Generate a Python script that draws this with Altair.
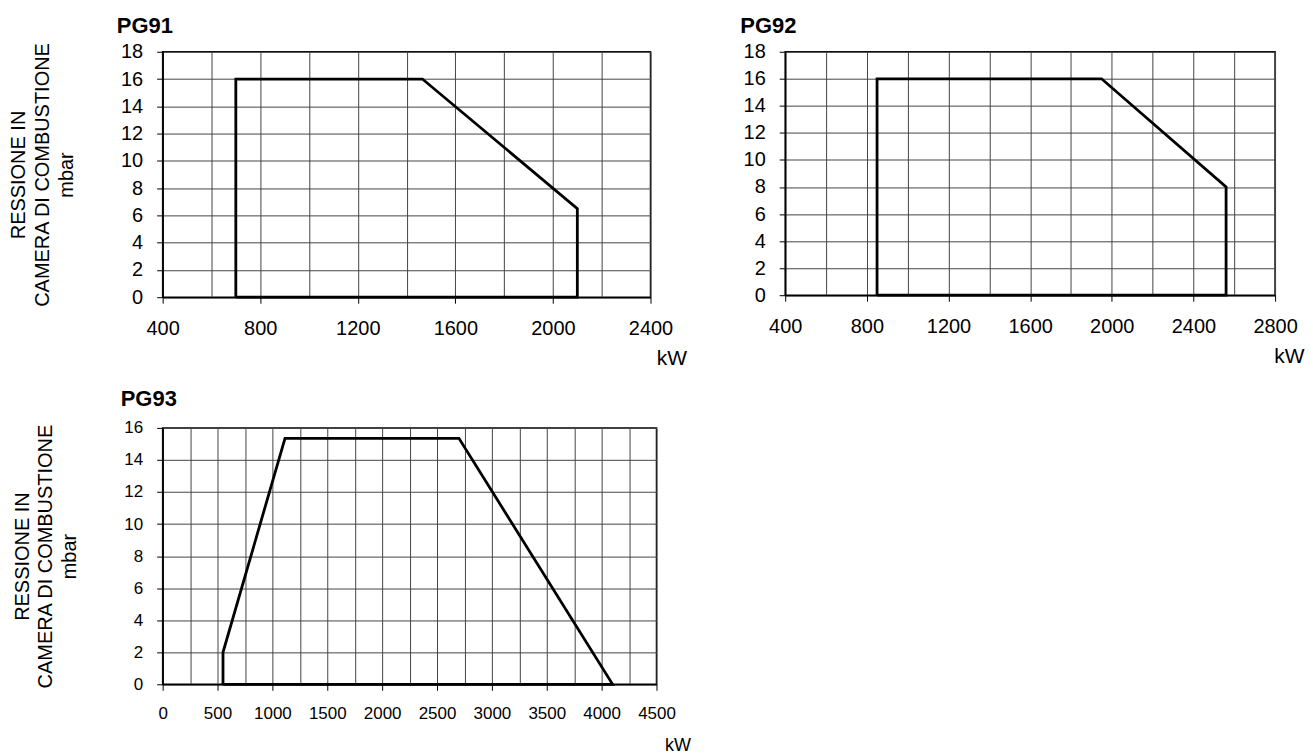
import altair as alt
import pandas as pd

# --- data ---
pg91_kw = [700, 700, 1465, 2100, 2100, 700]
pg91_mbar = [0, 16, 16, 6.5, 0, 0]

pg92_kw = [850, 850, 1950, 2560, 2560, 850]
pg92_mbar = [0, 16, 16, 8, 0, 0]

pg93_kw = [550, 550, 1115, 2700, 4100, 550]
pg93_mbar = [0, 2, 15.35, 15.35, 0, 0]

pg91_xgrid = list(range(400, 2401, 200))
pg92_xgrid = list(range(400, 2801, 200))
pg93_xgrid = list(range(0, 4501, 250))
y18_ticks = list(range(0, 19, 2))
y16_ticks = list(range(0, 17, 2))

Y_TITLE = ["RESSIONE IN", "CAMERA DI COMBUSTIONE", "mbar"]
FONT = "Liberation Sans"


def panel(name, kw, mbar, xgrid, xstep, xdom, yticks, ydom, w, h,
          ytitle, lab_size, title_dx, kw_dx, title_offset):
    df = pd.DataFrame({"kW": kw, "mbar": mbar, "i": list(range(len(kw)))})
    x_axis = alt.Axis(
        values=xgrid,
        labelExpr=f"datum.value % {xstep} === 0 ? datum.label : ''",
        tickOpacity=alt.ExprRef(f"datum.value % {xstep} === 0 ? 1 : 0"),
        labelOverlap=False, labelFlush=False,
        grid=True, gridColor="#444", gridWidth=1,
        tickSize=6, tickColor="#000", labelPadding=15,
        labelFontSize=lab_size, labelFont=FONT, labelColor="#000",
        domain=True, domainColor="#000", domainWidth=1.5,
        title="kW", titleFont=FONT, titleFontSize=lab_size + 1,
        titleFontWeight="normal", titleColor="#000",
        titleAnchor="end", titleAlign="right", titleBaseline="middle",
        titleX=w + kw_dx, titleY=61, format="d",
    )
    y_kwargs = dict(
        values=yticks, grid=True, gridColor="#444", gridWidth=1,
        labelOverlap=False, labelFlush=False,
        tickSize=6, tickColor="#000", labelPadding=14,
        labelFontSize=lab_size, labelFont=FONT, labelColor="#000",
        domain=True, domainColor="#000", domainWidth=1.5,
    )
    if ytitle:
        y_kwargs.update(title=Y_TITLE, titleFont=FONT, titleFontSize=20,
                        titleFontWeight="normal", titleColor="#000",
                        titleLineHeight=24, titlePadding=44)
    else:
        y_kwargs.update(title=None)
    return (
        alt.Chart(df)
        .mark_line(color="#000", strokeWidth=2.8, strokeJoin="miter")
        .encode(
            x=alt.X("kW:Q", scale=alt.Scale(domain=xdom, nice=False, zero=False), axis=x_axis),
            y=alt.Y("mbar:Q", scale=alt.Scale(domain=ydom, nice=False), axis=alt.Axis(**y_kwargs)),
            order="i:Q",
        )
        .properties(
            width=w, height=h,
            title=alt.TitleParams(name, anchor="start", frame="group", dx=title_dx,
                                  font=FONT, fontSize=22, fontWeight="bold",
                                  color="#000", offset=title_offset, baseline="alphabetic"),
        )
    )


c91 = panel("PG91", pg91_kw, pg91_mbar, pg91_xgrid, 400, [400, 2400], y18_ticks, [0, 18],
            489, 246, True, 20, -46, 36, -13)
c92 = panel("PG92", pg92_kw, pg92_mbar, pg92_xgrid, 400, [400, 2800], y18_ticks, [0, 18],
            491, 244, False, 20, -45, 29, -13)
c93 = panel("PG93", pg93_kw, pg93_mbar, pg93_xgrid, 500, [0, 4500], y16_ticks, [0, 16],
            495, 257, True, 17, -42, 34, -9)

chart = (
    alt.vconcat(alt.hconcat(c91, c92, spacing=52), c93, spacing=18)
    .configure(padding={"left": 0, "top": 5, "right": 0, "bottom": 0}, background="white")
    .configure_view(stroke="#000", strokeWidth=1.5)
)

chart.save("out.html", embed_options={"renderer": "svg", "actions": False})
